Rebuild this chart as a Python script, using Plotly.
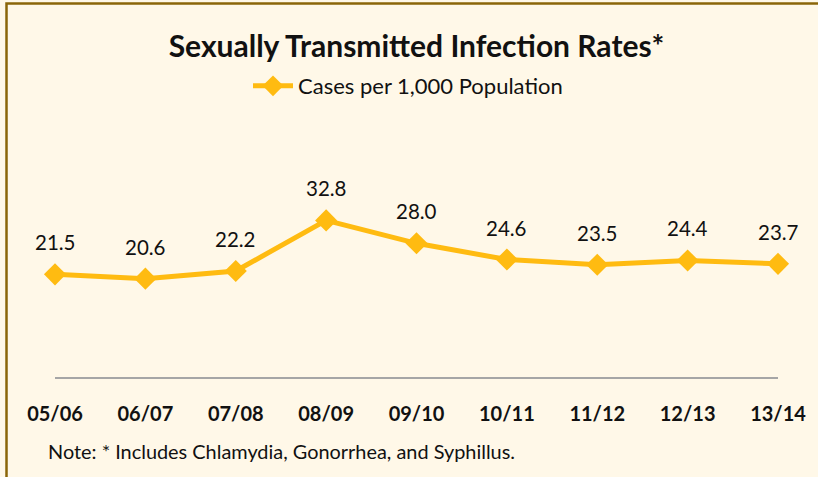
import plotly.graph_objects as go

years = ["05/06", "06/07", "07/08", "08/09", "09/10", "10/11", "11/12", "12/13", "13/14"]
rates = [21.5, 20.6, 22.2, 32.8, 28.0, 24.6, 23.5, 24.4, 23.7]
series_name = "Cases per 1,000 Population"
title_text = "<b>Sexually Transmitted Infection Rates*</b>"
note_text = "Note: * Includes Chlamydia, Gonorrhea, and Syphillus."

W, H = 818, 477
L, R, T, B = 55, 40, 186, 100
FONT = "Lato, Carlito, Calibri, sans-serif"
GOLD = "#FFBB11"
BG = "#FFF8E8"

fig = go.Figure()
fig.add_trace(go.Scatter(
    x=list(range(len(years))), y=rates, mode="lines+markers", name=series_name,
    line=dict(color=GOLD, width=5),
    marker=dict(symbol="diamond", size=17, color=GOLD),
    cliponaxis=False,
))

for i, v in enumerate(rates):
    fig.add_annotation(x=i, y=v, text=f"{v:.1f}", showarrow=False, yshift=32,
                       font=dict(size=20.5, color="#111111", family=FONT))

pw = W - L - R
ph = H - T - B
def px_x(p):
    return (p - L) / pw
def px_y(p):
    return (H - B - p) / ph

fig.add_annotation(xref="paper", yref="paper", x=px_x(46), y=px_y(451), xanchor="left",
                   yanchor="middle", text=note_text, showarrow=False,
                   font=dict(size=19.9, color="#111111", family=FONT))

fig.add_shape(type="rect", xref="paper", yref="paper",
              x0=px_x(6.5), y0=px_y(H + 20), x1=px_x(W + 20), y1=px_y(3.5),
              line=dict(color="#8B6508", width=2.5), fillcolor="rgba(0,0,0,0)", layer="above")

fig.update_layout(
    width=W, height=H,
    margin=dict(l=L, r=R, t=T, b=B),
    paper_bgcolor=BG, plot_bgcolor=BG,
    title=dict(text=title_text, x=0.5, xref="paper", y=1 - 46 / H, yanchor="middle",
               xanchor="center", font=dict(size=30, color="#111111", family=FONT)),
    showlegend=True,
    legend=dict(orientation="h", x=px_x(248), xanchor="left", y=px_y(86), yanchor="middle",
                font=dict(size=22, color="#111111", family=FONT), bgcolor="rgba(0,0,0,0)",
                itemwidth=40),
    xaxis=dict(range=[0, len(years) - 1], tickmode="array", tickvals=list(range(len(years))),
               ticktext=[f"<b>{y}</b>" for y in years], showgrid=False, zeroline=False,
               showline=True, linecolor="#A6A6A6", linewidth=2, ticks="",
               tickfont=dict(size=20, color="#111111", family=FONT), ticklabelstandoff=18),
    yaxis=dict(range=[0, 40], visible=False, showgrid=False, zeroline=False),
)

fig.write_html("out.html", config={"displayModeBar": False},
               post_script="document.body.style.margin='0';document.body.style.overflow='hidden';")
